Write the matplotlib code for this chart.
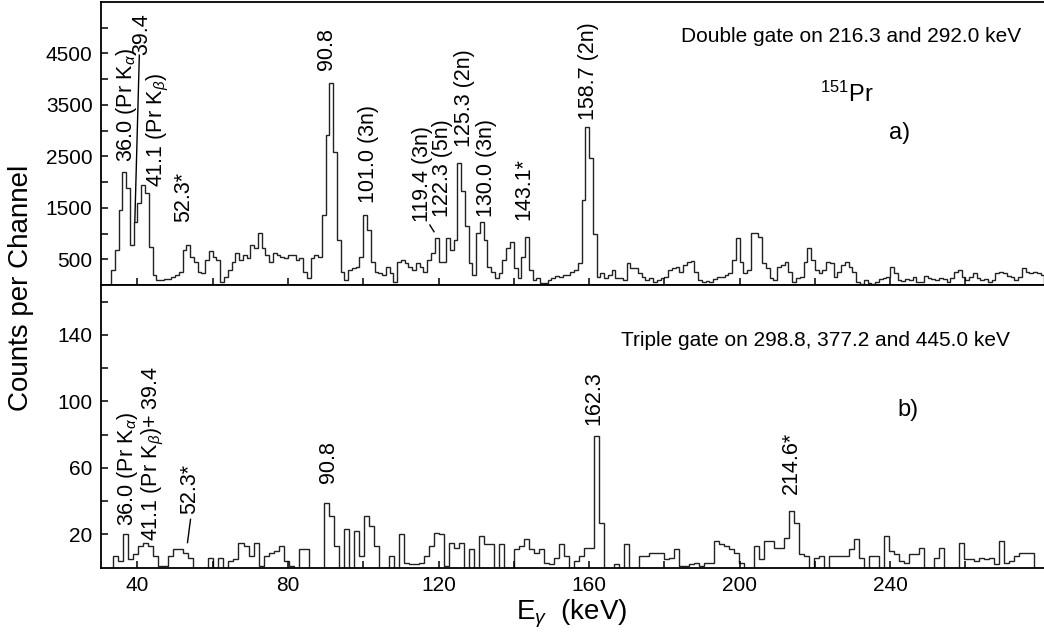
import numpy as np
import matplotlib
matplotlib.use("Agg")
from matplotlib import pyplot as plt

plt.rcParams['font.family'] = ['Liberation Sans', 'DejaVu Sans']
plt.rcParams['mathtext.fontset'] = 'custom'
plt.rcParams['mathtext.rm'] = 'Liberation Sans'
plt.rcParams['mathtext.it'] = 'Liberation Sans:italic'

# spectrum a): double gate, 1 keV per bin starting at 33 keV
top_start = 33.0
top_width = 1.0
top_counts = [
    290, 680, 1450, 2200, 1880, 780, 1230, 1600, 1940, 1780,            # 33-42
    740, 195, 100, 100, 110, 120, 150, 195, 260, 680,                   # 43-52
    780, 550, 455, 260, 227, 487, 660, 550, 487, 60,                    # 53-62
    150, 292, 455, 617, 487, 584, 519, 779, 714, 1010,                  # 63-72
    714, 584, 455, 617, 584, 552, 519, 584, 584, 487,                   # 73-82
    519, 260, 130, 519, 584, 550, 1360, 2910, 3920, 2590,               # 83-92
    870, 260, 97, 292, 324, 357, 550, 1360, 1070, 455,                  # 93-102
    260, 227, 195, 357, 227, 65, 455, 487, 422, 357,                    # 103-112
    292, 422, 357, 260, 487, 617, 909, 455, 455, 909,                   # 113-122
    680, 876, 2367, 1819, 1139, 419, 200, 1006, 1233, 876,              # 123-132
    357, 260, 130, 227, 487, 714, 844, 324, 130, 552,                   # 133-142
    941, 300, 97, 130, 32, 32, 97, 130, 175, 150,                       # 143-152
    195, 195, 260, 292, 420, 1650, 3070, 2460, 1000, 160,               # 153-162
    227, 130, 200, 292, 130, 130, 97, 422, 324, 324,                    # 163-172
    227, 150, 97, 130, 65, 97, 130, 162, 292, 324,                      # 173-182
    357, 260, 389, 455, 474, 260, 97, 65, 85, 65,                       # 183-192
    110, 150, 162, 195, 227, 487, 909, 455, 227, 292,                   # 193-202
    1006, 1019, 941, 422, 324, 130, 97, 357, 389, 455,                  # 203-212
    260, 65, 130, 162, 455, 714, 487, 292, 227, 292,                    # 213-222
    455, 422, 162, 260, 389, 455, 357, 260, 60, 15,                     # 223-232
    97, 32, 20, 65, 110, 130, 162, 357, 227, 97,                        # 233-242
    84, 110, 97, 150, 65, 65, 175, 130, 110, 97,                        # 243-252
    130, 110, 65, 130, 260, 292, 150, 97, 150, 227,                     # 253-262
    130, 97, 110, 65, 97, 240, 260, 227, 175, 150,                      # 263-272
    97, 162, 324, 260, 227, 260, 227, 195,                              # 273-280
]

# spectrum b): triple gate, 1.33 keV per bin starting at 33.6 keV
bot_start = 33.6
bot_width = 1.33
bot_counts = [
    7, 4, 20, 5, 8, 13, 15, 13, 7, 1,
    1, 7, 11, 11, 9, 6, 0, 0, 0, 6,
    0, 6, 0, 4, 5, 15, 13, 7, 15, 1,
    7, 9, 10, 13, 4, 1, 0, 11, 11, 0,
    0, 0, 39, 31, 13, 0, 23, 0, 22, 7,
    31, 25, 13, 0, 0, 7, 0, 20, 3, 2,
    2, 3, 7, 13, 21, 20, 1, 15, 12, 15,
    0, 11, 0, 19, 14, 14, 0, 14, 0, 0,
    11, 13, 17, 11, 9, 11, 3, 2, 6, 14,
    7, 0, 4, 7, 12, 12, 79, 27, 0, 0,
    2, 0, 14, 0, 0, 7, 7, 9, 9, 9,
    5, 6, 11, 1, 1, 2, 3, 1, 3, 3,
    16, 14, 13, 11, 9, 3, 0, 0, 13, 5,
    16, 16, 12, 12, 18, 34, 27, 8, 7, 0,
    6, 7, 0, 7, 7, 7, 7, 11, 17, 6,
    0, 7, 7, 0, 19, 10, 8, 4, 3, 8,
    8, 12, 0, 0, 6, 12, 0, 0, 0, 15,
    5, 5, 4, 6, 5, 6, 2, 16, 3, 4,
    7, 9, 9, 9, 0, 0,
]

# peak labels: text, energy, count at lower end of text, horizontal anchor
top_labels = [
    (r"36.0 (Pr K$_{\alpha}$)", 33.8, 2395, "left"),
    ("39.4", 41.1, 4467, "center"),
    (r"41.1 (Pr K$_{\beta}$)", 42.0, 1909, "left"),
    ("52.3*", 52.2, 1230, "center"),
    ("90.8", 90.3, 4175, "center"),
    ("101.0 (3n)", 101.4, 1586, "center"),
    ("119.4 (3n)", 115.7, 1230, "center"),
    ("122.3 (5n)", 121.1, 1327, "center"),
    ("125.3 (2n)", 126.8, 2686, "center"),
    ("130.0 (3n)", 132.8, 1327, "center"),
    ("143.1*", 142.7, 1262, "center"),
    ("158.7 (2n)", 159.8, 3204, "center"),
]
bot_labels = [
    (r"36.0 (Pr K$_{\alpha}$)", 34.0, 25, "left"),
    (r"41.1 (Pr K$_{\beta}$)+ 39.4", 40.7, 16, "left"),
    ("52.3*", 53.9, 32, "center"),
    ("90.8", 90.7, 51, "center"),
    ("162.3", 161.3, 86, "center"),
    ("214.6*", 213.9, 44, "center"),
]
# leader lines (energy pair, count pair)
top_leaders = [((40.5, 39.3), (4467, 1230)), ((117.7, 118.8), (1165, 1035))]
bot_leaders = [((54.1, 53.3), (29, 15))]

x_min, x_max = 30.3, 280.9
line_col = "#222222"

fig = plt.figure(figsize=(10.44, 6.43), dpi=100)
ax_top = fig.add_axes([0.0967, 0.5568, 0.9033, 0.4401])
ax_bot = fig.add_axes([0.0967, 0.1174, 0.9033, 0.4393])

top_edges = top_start + top_width * np.arange(len(top_counts) + 1)
bot_edges = bot_start + bot_width * np.arange(len(bot_counts) + 1)
ax_top.stairs(top_counts, top_edges, color=line_col, lw=1.0, baseline=0)
ax_bot.stairs(bot_counts, bot_edges, color=line_col, lw=1.0, baseline=0)

ax_top.set_ylim(0, 5500)
ax_bot.set_ylim(0, 170)
for ax in (ax_top, ax_bot):
    ax.set_xlim(x_min, x_max)
    ax.spines['right'].set_visible(False)
    for s in ('left', 'top', 'bottom'):
        ax.spines[s].set_linewidth(1.3)
    ax.tick_params(which='both', direction='in', length=5, width=1.1,
                   labelsize=15, top=False, right=False, pad=6)
    ax.set_xticks([40, 80, 120, 160, 200, 240])
    ax.set_xticks([60, 100, 140, 180, 220, 260], minor=True)

ax_top.set_yticks([500, 1500, 2500, 3500, 4500])
ax_top.set_yticks([1000, 2000, 3000, 4000, 5000], minor=True)
ax_top.tick_params(axis='x', labelbottom=False)
ax_bot.set_yticks([20, 60, 100, 140])
ax_bot.set_yticks([40, 80, 120, 160], minor=True)

for ax, labels, leaders in ((ax_top, top_labels, top_leaders),
                            (ax_bot, bot_labels, bot_leaders)):
    for txt, e, c, ha in labels:
        ax.text(e, c, txt, rotation=90, ha=ha, va='bottom', fontsize=15.5)
    for xs, ys in leaders:
        ax.plot(xs, ys, color='black', lw=1.0)

ax_top.text(0.976, 0.877, "Double gate on 216.3 and 292.0 keV",
            transform=ax_top.transAxes, ha='right', va='center', fontsize=15)
ax_top.text(0.791, 0.648, r"$^{151}$Pr", transform=ax_top.transAxes,
            ha='center', va='baseline', fontsize=17)
ax_top.text(0.847, 0.537, "a)", transform=ax_top.transAxes,
            ha='center', va='center', fontsize=17)
ax_bot.text(0.964, 0.805, "Triple gate on 298.8, 377.2 and 445.0 keV",
            transform=ax_bot.transAxes, ha='right', va='center', fontsize=15)
ax_bot.text(0.856, 0.558, "b)", transform=ax_bot.transAxes,
            ha='center', va='center', fontsize=17)

fig.text(0.020, 0.553, "Counts per Channel", rotation=90,
         ha='center', va='center', fontsize=20)
fig.text(0.548, 0.036, r"E$_{\gamma}$  (keV)", ha='center', va='baseline',
         fontsize=20)

fig.savefig("out.png", dpi=100)
